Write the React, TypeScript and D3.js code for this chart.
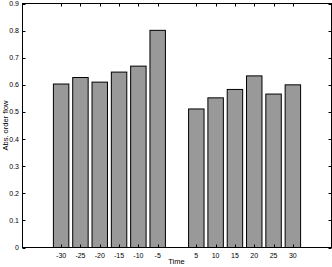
import React, { useRef, useEffect } from "react";
import * as d3 from "d3";

// data
const times = [-30, -25, -20, -15, -10, -5, 5, 10, 15, 20, 25, 30];
const flows = [0.603, 0.627, 0.61, 0.647, 0.669, 0.801, 0.511, 0.552, 0.583, 0.633, 0.566, 0.6];
const yTicks = [0, 0.1, 0.2, 0.3, 0.4, 0.5, 0.6, 0.7, 0.8, 0.9];

const W = 332;
const H = 267;

const App = () => {
  const svgRef = useRef<SVGSVGElement>(null);

  useEffect(() => {
    const svg = d3.select(svgRef.current);
    svg.selectAll("*").remove();

    const left = 22.5;
    const right = 331.5;
    const top = 3.5;
    const bottom = 247.5;

    const x = d3.scaleLinear().domain([-40, 40]).range([left, right]);
    const y = d3.scaleLinear().domain([0, 0.9]).range([bottom, top]);
    const barW = x(4) - x(0);

    const font = "'Liberation Sans', Arial, sans-serif";

    // bars
    svg
      .append("g")
      .selectAll("rect")
      .data(times)
      .join("rect")
      .attr("x", (d) => x(d) - barW / 2)
      .attr("y", (d, i) => y(flows[i]))
      .attr("width", barW)
      .attr("height", (d, i) => y(0) - y(flows[i]))
      .attr("fill", "#999999")
      .attr("stroke", "#000")
      .attr("stroke-width", 1);

    // axes box
    svg
      .append("rect")
      .attr("x", left)
      .attr("y", top)
      .attr("width", right - left)
      .attr("height", bottom - top)
      .attr("fill", "none")
      .attr("stroke", "#000")
      .attr("stroke-width", 1);

    const tl = 3;
    const ticks = svg.append("g").attr("stroke", "#000").attr("stroke-width", 1);

    // x ticks (inward, bottom and top)
    times.forEach((t) => {
      const px = Math.round(x(t)) + 0.5;
      ticks.append("line").attr("x1", px).attr("x2", px).attr("y1", bottom).attr("y2", bottom - tl);
      ticks.append("line").attr("x1", px).attr("x2", px).attr("y1", top).attr("y2", top + tl);
    });

    // y ticks (inward, left and right)
    yTicks.forEach((v) => {
      const py = Math.round(y(v)) + 0.5;
      ticks.append("line").attr("x1", left).attr("x2", left + tl).attr("y1", py).attr("y2", py);
      ticks.append("line").attr("x1", right).attr("x2", right - tl).attr("y1", py).attr("y2", py);
    });

    // x tick labels
    svg
      .append("g")
      .selectAll("text")
      .data(times)
      .join("text")
      .attr("x", (d) => x(d))
      .attr("y", bottom + 10)
      .attr("text-anchor", "middle")
      .attr("font-family", font)
      .attr("font-size", 7)
      .attr("fill", "#000")
      .text((d) => String(d));

    // y tick labels
    svg
      .append("g")
      .selectAll("text")
      .data(yTicks)
      .join("text")
      .attr("x", left - 3.5)
      .attr("y", (d) => y(d))
      .attr("dy", "0.35em")
      .attr("text-anchor", "end")
      .attr("font-family", font)
      .attr("font-size", 7)
      .attr("fill", "#000")
      .text((d) => d3.format("~g")(d));

    // axis titles
    svg
      .append("text")
      .attr("x", (left + right) / 2 - 0.5)
      .attr("y", 264)
      .attr("text-anchor", "middle")
      .attr("font-family", font)
      .attr("font-size", 7.5)
      .text("Time");

    svg
      .append("text")
      .attr("transform", `translate(7.5,${(top + bottom) / 2}) rotate(-90)`)
      .attr("text-anchor", "middle")
      .attr("font-family", font)
      .attr("font-size", 7.5)
      .text("Abs. order flow");
  }, []);

  return (
    <svg
      ref={svgRef}
      width={W}
      height={H}
      style={{ position: "absolute", left: 0, top: 0, background: "#fff" }}
    ></svg>
  );
};

export default App;
